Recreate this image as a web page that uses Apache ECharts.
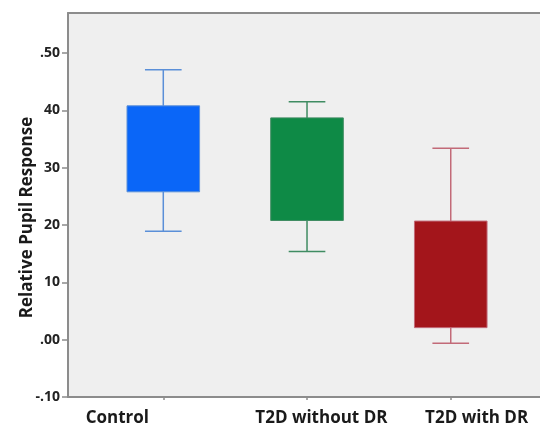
<!DOCTYPE html>
<html>
<head>
<meta charset="utf-8">
<script src="https://cdn.jsdelivr.net/npm/echarts@6/dist/echarts.min.js"></script>
<style>html,body{margin:0;padding:0;background:#fff}#c{width:540px;height:431px}</style>
</head>
<body>
<div id="c"></div>
<script>
// ---- data ----
const categories = ["Control", "T2D without DR", "T2D with DR"];
const whiskerLow  = [0.189, 0.154, -0.006];
const q1          = [0.258, 0.208, 0.021];
const q3          = [0.408, 0.387, 0.207];
const whiskerHigh = [0.471, 0.415, 0.334];
const yTickValues = [-0.1, 0, 0.1, 0.2, 0.3, 0.4, 0.5];
const yTickLabels = ["-.10", ".00", "10", "20", "30", "40", ".50"];

// ---- styling / layout ----
const fills   = ["#0a66f8", "#0e8a46", "#a3151b"];
const strokes = ["#5a8fd8", "#3f8c62", "#c26a78"];
const labelPos = [-0.32, 1.10, 2.18];
const AXIS = "#8c8c8c";

const chart = echarts.init(document.getElementById('c'), null, {renderer: 'canvas'});

const seriesData = categories.map((c, i) => [i, whiskerLow[i], q1[i], q3[i], whiskerHigh[i]]);

chart.setOption({
  animation: false,
  backgroundColor: '#fff',
  grid: {left: 68, top: 13, right: 0, bottom: 34, show: true, backgroundColor: '#efefef', borderWidth: 0},
  xAxis: [{
    type: 'value', min: -0.663, max: 2.621,
    splitLine: {show: false},
    axisLine: {show: true, onZero: false, lineStyle: {color: AXIS, width: 2}},
    axisTick: {show: true, length: 3, lineStyle: {color: AXIS, width: 1.5}, customValues: [0, 1, 2]},
    axisLabel: {
      customValues: labelPos, margin: 13,
      fontFamily: 'Open Sans', fontWeight: 'bold', fontSize: 17, color: '#1a1a1a',
      formatter: function (v) {
        let best = 0;
        labelPos.forEach((p, i) => { if (Math.abs(p - v) < Math.abs(labelPos[best] - v)) best = i; });
        return categories[best];
      }
    }
  }, {
    type: 'value', position: 'top', min: -0.663, max: 2.621,
    splitLine: {show: false}, axisTick: {show: false}, axisLabel: {show: false},
    axisLine: {show: true, onZero: false, lineStyle: {color: AXIS, width: 2}}
  }],
  yAxis: {
    type: 'value', min: -0.1, max: 0.57,
    name: 'Relative Pupil Response', nameLocation: 'middle', nameGap: 32, nameRotate: 90,
    nameMoveOverlap: false,
    nameTextStyle: {fontFamily: 'Open Sans', fontWeight: 'bold', fontSize: 17, color: '#1a1a1a', padding: [0, 0, 0, -25]},
    splitLine: {show: false},
    axisLine: {show: true, onZero: false, lineStyle: {color: AXIS, width: 2}},
    axisTick: {show: true, length: 6, lineStyle: {color: AXIS, width: 1.5}, customValues: yTickValues},
    axisLabel: {
      customValues: yTickValues, margin: 8,
      fontFamily: 'Open Sans', fontWeight: 'bold', fontSize: 14, color: '#222',
      formatter: function (v) {
        let best = 0;
        yTickValues.forEach((p, i) => { if (Math.abs(p - v) < Math.abs(yTickValues[best] - v)) best = i; });
        return yTickLabels[best];
      }
    }
  },
  series: [{
    type: 'custom',
    data: seriesData,
    encode: {x: 0, y: [1, 2, 3, 4]},
    renderItem: function (params, api) {
      const i = api.value(0);
      const x = api.coord([i, 0])[0];
      const pLow = api.coord([i, api.value(1)]);
      const pQ1 = api.coord([i, api.value(2)]);
      const pQ3 = api.coord([i, api.value(3)]);
      const pHigh = api.coord([i, api.value(4)]);
      const boxW = api.size([0.505, 0])[0];
      const capW = api.size([0.255, 0])[0];
      const lineStyle = {stroke: strokes[i], lineWidth: 1.5, fill: null};
      return {
        type: 'group',
        children: [
          {type: 'line', shape: {x1: x, y1: pHigh[1], x2: x, y2: pQ3[1]}, style: lineStyle},
          {type: 'line', shape: {x1: x, y1: pQ1[1], x2: x, y2: pLow[1]}, style: lineStyle},
          {type: 'line', shape: {x1: x - capW / 2, y1: pHigh[1], x2: x + capW / 2, y2: pHigh[1]}, style: lineStyle},
          {type: 'line', shape: {x1: x - capW / 2, y1: pLow[1], x2: x + capW / 2, y2: pLow[1]}, style: lineStyle},
          {type: 'rect', shape: {x: x - boxW / 2, y: pQ3[1], width: boxW, height: pQ1[1] - pQ3[1]},
            style: {fill: fills[i], stroke: strokes[i], lineWidth: 1}}
        ]
      };
    }
  }]
});
</script>
</body>
</html>
